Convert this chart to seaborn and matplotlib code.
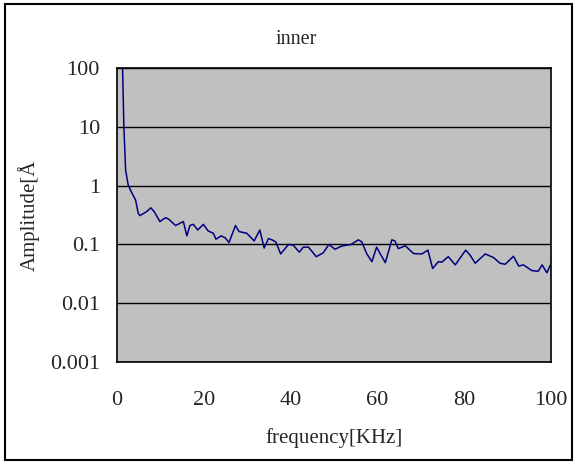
import numpy as np
import pandas as pd
import matplotlib
matplotlib.use("Agg")
import matplotlib.pyplot as plt
import seaborn as sns
from matplotlib.patches import Rectangle

sns.set_style("white")
plt.rcParams['font.family'] = ['Liberation Serif', 'DejaVu Serif']

# data
freq = [1.3, 1.6, 2.0, 2.6, 3.4, 4.3, 4.9, 5.3, 6.8, 7.8, 8.6, 9.9, 11.2,
        11.9, 13.5, 15.3, 16.1, 16.8, 17.6, 18.6, 19.9, 21.0, 22.2, 22.8,
        24.0, 24.9, 25.8, 27.3, 28.1, 29.9, 31.6, 32.9, 33.9, 34.9, 35.7,
        36.6, 37.7, 39.5, 40.6, 42.0, 42.9, 44.1, 45.9, 47.5, 48.8, 50.2,
        51.8, 53.9, 55.6, 56.4, 57.5, 58.7, 59.8, 60.6, 61.8, 63.3, 64.0,
        64.8, 66.4, 68.3, 70.2, 71.6, 72.7, 74.0, 74.8, 76.3, 77.9, 80.3,
        81.3, 82.5, 84.8, 86.7, 88.2, 89.4, 91.3, 92.5, 93.6, 95.5, 97.0,
        97.9, 99.0, 100.0]
amp = [100, 10, 1.84, 1.02, 0.76, 0.57, 0.34, 0.31, 0.36, 0.42, 0.36, 0.245,
       0.285, 0.27, 0.21, 0.245, 0.14, 0.21, 0.22, 0.176, 0.22, 0.17, 0.155,
       0.123, 0.14, 0.13, 0.108, 0.21, 0.166, 0.155, 0.115, 0.176, 0.087,
       0.126, 0.12, 0.11, 0.069, 0.1, 0.097, 0.074, 0.09, 0.09, 0.062, 0.072,
       0.1, 0.083, 0.094, 0.1, 0.12, 0.11, 0.07, 0.051, 0.09, 0.07, 0.049,
       0.12, 0.115, 0.085, 0.095, 0.07, 0.069, 0.08, 0.039, 0.051, 0.05,
       0.062, 0.045, 0.08, 0.066, 0.048, 0.069, 0.06, 0.048, 0.046, 0.063,
       0.043, 0.045, 0.036, 0.035, 0.045, 0.033, 0.048]
ytick_vals = [0.001, 0.01, 0.1, 1, 10, 100]
ytick_labels = ["0.001", "0.01", "0.1", "1", "10", "100"]
xtick_vals = [0, 20, 40, 60, 80, 100]

df = pd.DataFrame({"freq": freq, "amp": amp})

fig = plt.figure(figsize=(5.76, 4.63), dpi=100)
ax = fig.add_axes([0.203, 0.218, 0.754, 0.635])
ax.set_facecolor("#C0C0C0")

sns.lineplot(data=df, x="freq", y="amp", sort=False, color="#000080",
             linewidth=1.1, ax=ax)

ax.set_yscale("log")
ax.set_ylim(0.001, 100)
ax.set_xlim(0, 100)
ax.set_yticks(ytick_vals)
ax.set_yticklabels(ytick_labels)
ax.minorticks_off()
ax.set_xticks(xtick_vals)
ax.grid(axis="y", color="black", linewidth=1)
ax.grid(axis="x", visible=False)
ax.tick_params(axis="y", direction="out", length=3.6, width=1, labelsize=16, pad=8.6)
ax.tick_params(axis="x", direction="in", length=3.6, width=1, labelsize=16, pad=21)
for s in ax.spines.values():
    s.set_color("black")
    s.set_linewidth(1.2)

ax.set_xlabel("")
ax.set_ylabel("")
# title and axis labels placed as in the reference
fig.text(0.515, 0.914, "inner", fontsize=14.5, ha="center", va="center")
fig.text(0.58, 0.054, "frequency[KHz]", fontsize=15, ha="center", va="center")
fig.text(0.05, 0.535, "Amplitude[Å", fontsize=15, ha="center", va="center",
         rotation=90)

fig.patches.append(Rectangle((0.009, 0.006), 0.984, 0.985, transform=fig.transFigure,
                             fill=False, edgecolor="black", linewidth=1.5))

fig.savefig("out.png", dpi=100)
